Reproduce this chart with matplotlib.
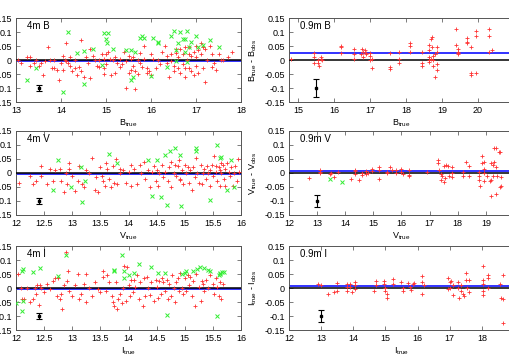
import matplotlib
matplotlib.use("Agg")
import matplotlib.pyplot as plt
from matplotlib.ticker import FixedLocator, FixedFormatter

plt.rcParams['font.family'] = ['Liberation Sans', 'DejaVu Sans']
plt.rcParams['mathtext.default'] = 'regular'

# ---------------- data ----------------
# 4m B
b4_red_x = [13.05,13.1,13.25,13.3,13.3,13.4,13.45,13.5,13.55,13.6,13.7,13.75,13.8,13.85,13.9,13.95,14.0,14.05,14.05,14.08,14.1,14.12,14.15,14.2,14.25,14.3,14.3,14.35,14.4,14.45,14.45,14.5,14.55,14.6,14.65,14.7,14.75,14.8,14.85,14.85,14.9,14.95,14.95,15.0,15.05,15.08,15.1,15.15,15.2,15.25,15.3,15.35,15.4,15.45,15.5,15.5,15.55,15.6,15.6,15.65,15.65,15.7,15.7,15.75,15.8,15.85,15.85,15.9,15.95,16.0,16.05,16.1,16.15,16.2,16.25,16.3,16.35,16.4,16.45,16.5,16.55,16.6,16.6,16.65,16.7,16.7,16.75,16.8,16.85,16.85,16.9,16.95,17.0,17.0,17.05,17.1,17.1,17.15,17.2,17.2,17.25,17.3,17.35,17.4,17.45,17.5,17.55,17.6,17.8,17.7,16.9,16.5,16.35,16.0,15.9,15.45,15.3,15.2,14.65,14.95,15.0,16.95,17.15,17.05,16.75,16.65,16.55,16.45,15.75,15.55,14.2,13.85,13.65,17.35,17.0,16.85,16.75]
b4_red_y = [0.0,-0.01,0.01,0.01,-0.02,-0.01,0.0,-0.02,-0.01,-0.055,0.045,0.0,-0.03,-0.028,-0.035,-0.072,-0.01,0.015,-0.035,0.0,-0.005,0.06,-0.01,-0.02,-0.04,0.0,-0.03,-0.055,-0.025,0.07,-0.04,-0.06,0.01,-0.01,-0.065,0.015,0.0,-0.02,0.0,-0.025,0.02,0.005,-0.03,0.02,0.03,0.005,-0.055,0.0,0.01,-0.01,0.005,-0.015,0.03,-0.1,-0.045,0.015,-0.035,-0.02,0.01,-0.105,-0.04,0.0,-0.05,0.025,-0.025,0.05,0.005,-0.03,-0.04,0.02,0.005,-0.03,0.0,-0.015,0.03,0.05,-0.01,-0.06,0.02,-0.04,0.04,-0.03,0.01,-0.045,0.02,-0.015,-0.06,0.0,-0.03,0.02,-0.04,0.03,0.01,-0.02,-0.045,0.06,0.02,-0.03,-0.08,0.04,0.0,0.05,0.02,-0.01,-0.035,0.02,0.0,0.0,0.03,0.01,0.015,-0.02,0.015,-0.055,-0.045,-0.005,-0.025,-0.045,0.04,-0.05,-0.015,-0.055,0.045,0.035,0.045,0.04,0.025,-0.005,-0.01,0.005,0.01,0.0,-0.005,-0.025,0.05,0.045,-0.03]
b4_grn_x = [13.25,13.45,14.15,14.05,14.35,14.5,14.5,14.7,14.9,14.95,15.0,15.02,15.05,15.15,15.45,15.55,15.55,15.6,15.65,15.75,15.8,15.85,16.0,16.05,16.15,16.15,16.35,16.45,16.5,16.55,16.6,16.65,16.7,16.75,16.75,16.8,16.85,16.9,17.0,17.05,17.15,17.3,17.5,16.55,16.8]
b4_grn_y = [-0.073,-0.028,0.1,-0.115,0.025,0.033,-0.085,0.04,-0.018,0.095,0.075,0.06,0.097,0.04,0.035,0.035,-0.072,-0.062,0.03,0.08,0.085,0.08,-0.057,0.08,0.065,0.06,-0.025,0.085,0.105,0.035,0.062,0.1,0.075,0.075,0.03,0.105,0.045,0.065,0.085,0.045,0.055,0.072,0.045,-0.005,-0.008]

# 4m V
v4_red_x = [12.05,12.3,12.35,12.45,12.45,12.55,12.6,12.65,12.7,12.78,12.8,12.85,12.88,12.9,12.95,12.95,13.0,13.05,13.1,13.12,13.18,13.2,13.25,13.3,13.35,13.4,13.42,13.45,13.5,13.52,13.55,13.58,13.6,13.62,13.65,13.68,13.72,13.75,13.78,13.8,13.85,13.9,13.95,14.0,14.05,14.05,14.1,14.15,14.2,14.22,14.28,14.3,14.35,14.38,14.42,14.45,14.48,14.5,14.52,14.55,14.6,14.62,14.65,14.7,14.72,14.75,14.8,14.82,14.85,14.88,14.9,14.92,14.95,14.97,15.0,15.02,15.05,15.08,15.1,15.12,15.15,15.18,15.2,15.22,15.25,15.28,15.3,15.33,15.35,15.38,15.4,15.42,15.45,15.48,15.5,15.52,15.55,15.57,15.6,15.62,15.63,15.65,15.68,15.7,15.72,15.75,15.78,15.8,15.82,15.85,15.88,15.9,15.92,15.95,15.97,15.55,15.65,15.72,15.45,14.92,14.75,13.85,12.25]
v4_red_y = [-0.035,-0.04,-0.03,0.025,-0.01,-0.04,0.015,-0.03,0.01,0.015,-0.03,-0.068,0.0,-0.04,0.035,0.015,-0.01,-0.065,-0.03,0.025,-0.04,-0.05,0.01,0.0,0.055,-0.06,-0.015,-0.068,0.02,-0.01,-0.03,-0.045,0.035,0.015,-0.02,-0.05,0.025,-0.035,0.05,-0.04,0.0,0.01,-0.035,0.005,0.03,-0.045,0.015,-0.04,0.03,0.0,0.04,-0.02,0.01,-0.05,0.005,0.025,-0.03,0.01,-0.045,0.0,0.03,-0.015,0.005,-0.03,0.02,-0.05,0.0,0.03,-0.01,0.025,0.047,-0.025,0.01,-0.04,0.03,0.0,0.02,-0.035,0.01,-0.06,0.02,-0.015,0.055,0.0,-0.035,0.03,-0.04,0.0,0.015,-0.02,0.025,0.0,-0.045,0.03,-0.01,0.06,0.005,-0.03,0.02,0.01,-0.045,0.0,0.03,-0.02,0.015,0.035,0.005,-0.01,0.02,-0.045,0.0,0.025,-0.03,0.05,0.005,0.025,0.035,-0.045,0.01,-0.02,0.04,0.015,-0.01]
v4_grn_x = [12.65,12.75,12.98,13.15,13.17,13.22,13.65,13.8,14.35,14.42,14.5,14.57,14.65,14.68,14.73,14.82,14.92,14.93,15.2,15.2,15.45,15.58,15.62,15.65,15.75,15.82,15.88]
v4_grn_y = [-0.06,0.045,-0.05,0.022,-0.105,-0.027,0.067,0.035,0.045,-0.082,0.048,-0.085,0.063,-0.115,0.08,0.09,0.063,-0.118,0.09,0.08,-0.098,0.1,0.055,0.058,-0.062,0.045,-0.05]

# 4m I
i4_red_x = [12.03,12.08,12.1,12.15,12.2,12.25,12.3,12.33,12.35,12.37,12.4,12.42,12.45,12.5,12.55,12.6,12.65,12.7,12.72,12.75,12.78,12.8,12.82,12.85,12.88,12.9,12.92,12.95,13.0,13.05,13.1,13.12,13.15,13.2,13.25,13.25,13.3,13.35,13.4,13.45,13.5,13.55,13.55,13.6,13.62,13.65,13.7,13.72,13.75,13.78,13.8,13.82,13.85,13.88,13.9,13.92,13.95,13.98,14.0,14.02,14.05,14.08,14.1,14.12,14.15,14.18,14.2,14.25,14.28,14.3,14.32,14.35,14.38,14.4,14.45,14.48,14.5,14.52,14.55,14.58,14.6,14.62,14.65,14.68,14.7,14.72,14.75,14.78,14.8,14.82,14.85,14.88,14.9,14.92,14.95,14.97,15.0,15.02,15.05,15.08,15.1,15.12,15.15,15.18,15.2,15.25,15.28,15.3,15.32,15.35,15.38,15.42,15.45,15.5,15.52,15.55,15.58,15.6,15.62,15.65,15.68]
i4_red_y = [0.05,0.0,-0.04,-0.04,0.0,-0.05,-0.04,0.0,-0.02,0.01,-0.06,0.01,0.0,-0.015,0.015,-0.005,0.025,0.035,-0.03,0.035,-0.04,-0.02,-0.075,0.01,0.13,0.025,0.06,-0.01,-0.03,0.01,0.05,-0.04,-0.02,0.015,0.05,-0.05,0.0,-0.03,0.02,-0.005,-0.015,0.06,0.04,-0.01,0.045,0.02,-0.03,-0.05,-0.065,0.02,-0.075,-0.04,-0.02,-0.055,0.0,0.08,-0.045,0.075,0.01,-0.03,0.03,-0.015,0.03,0.005,0.045,-0.04,0.02,-0.065,0.035,-0.03,0.04,0.0,-0.025,0.02,-0.045,0.03,0.005,-0.035,0.025,-0.02,0.035,0.02,-0.01,0.03,-0.04,0.015,-0.03,0.045,0.0,-0.05,0.02,0.035,-0.01,0.055,0.0,-0.02,0.035,-0.01,0.045,0.01,0.04,-0.03,0.025,-0.065,0.05,0.005,-0.045,0.025,0.015,-0.01,0.03,0.0,0.045,0.015,-0.02,0.035,0.005,-0.03,0.02,-0.04,0.015]
i4_grn_x = [12.0,12.1,12.1,12.12,12.12,12.3,12.42,12.75,12.88,13.75,13.75,13.88,13.92,14.0,14.1,14.18,14.4,14.52,14.65,14.68,14.95,15.02,15.0,15.15,15.22,15.27,15.35,15.42,15.45,15.57,15.6,15.62,15.66,15.7,15.62,13.92]
i4_grn_y = [-0.055,-0.083,0.06,0.068,-0.048,0.058,0.07,0.043,0.118,0.065,0.06,0.118,0.06,0.045,0.055,0.087,0.075,0.055,0.055,-0.098,0.05,0.062,0.052,0.062,0.068,0.075,0.07,0.065,0.06,-0.1,0.045,0.055,0.057,0.058,0.05,0.035]

# 0.9m B
b09_red_x = [14.8,15.45,15.45,15.45,15.55,15.55,15.58,15.65,15.65,15.68,16.2,16.2,16.2,16.55,16.55,16.55,16.75,16.78,16.8,16.8,16.85,16.9,16.9,17.0,17.0,17.0,17.05,17.05,17.55,17.55,17.55,17.8,17.8,17.8,18.1,18.1,18.1,18.45,18.45,18.45,18.65,18.65,18.65,18.65,18.65,18.7,18.72,18.72,18.75,18.75,18.8,18.8,18.85,18.85,18.85,18.85,18.75,18.7,19.4,19.4,19.45,19.45,19.45,19.45,19.7,19.7,19.7,19.8,19.8,19.8,19.95,19.95,19.95,20.3,20.3,20.3,20.38]
b09_red_y = [0.005,0.025,0.01,-0.01,0.0,-0.01,-0.022,0.005,0.01,0.0,0.05,0.045,0.025,0.04,0.02,0.005,0.02,0.04,0.03,0.01,0.035,0.025,0.02,0.025,0.015,0.0,-0.028,0.005,0.025,-0.025,-0.032,0.03,0.005,-0.012,0.062,0.05,0.03,0.027,-0.012,-0.022,0.055,0.035,0.01,0.0,-0.008,0.075,0.082,0.048,0.0,0.015,0.02,-0.062,0.045,0.03,-0.035,-0.015,-0.02,0.005,0.11,0.055,0.04,0.03,0.025,0.02,0.08,0.065,0.06,0.045,-0.048,-0.053,0.105,0.085,-0.045,0.11,0.085,0.03,0.035]

# 0.9m V
v09_red_x = [12.7,13.1,13.1,13.1,13.45,13.5,13.6,13.75,14.2,14.35,14.35,14.35,14.5,14.6,14.6,14.75,14.75,14.8,14.95,14.95,15.2,15.2,15.2,15.5,15.5,15.6,15.65,15.8,15.8,16.0,16.0,16.05,16.25,16.25,16.25,16.9,17.3,17.3,17.35,17.4,17.4,17.45,17.5,17.5,17.55,17.6,17.65,17.7,17.8,17.8,17.8,18.2,18.2,18.3,18.4,18.4,18.75,18.75,18.75,18.8,18.85,18.85,18.95,18.95,18.95,19.2,19.2,19.2,19.25,19.25,19.3,19.35,19.35,19.35,19.4,19.45,19.5,19.5,19.55,19.55,19.15,19.3,18.95,19.05]
v09_red_y = [-0.018,0.012,0.005,0.0,-0.005,0.0,-0.015,0.002,-0.022,0.012,0.008,-0.005,-0.025,0.0,-0.008,0.008,-0.005,0.0,0.015,0.008,0.02,0.01,-0.022,0.0,0.005,0.02,0.012,0.01,0.0,0.015,0.005,-0.005,0.01,-0.008,-0.01,0.005,0.045,0.035,0.01,-0.025,-0.005,-0.01,0.025,-0.032,-0.018,0.03,0.025,-0.01,0.02,0.0,-0.015,0.005,-0.01,0.04,0.025,-0.01,0.005,-0.01,-0.025,-0.045,0.06,0.035,0.04,0.015,-0.03,0.035,-0.025,-0.082,0.03,-0.01,0.09,0.09,0.02,-0.075,-0.01,0.075,0.075,-0.05,-0.045,-0.015,-0.03,0.04,0.0,-0.01]
v09_grn_x = [13.45,13.9]
v09_grn_y = [-0.022,-0.032]

# 0.9m I
i09_red_x = [12.9,13.0,13.2,13.4,13.5,13.5,13.8,13.8,13.8,13.9,13.9,13.95,14.05,14.05,14.05,14.7,14.7,14.65,14.95,14.95,15.0,15.0,15.05,15.05,15.25,15.25,15.5,15.55,15.55,15.7,15.75,15.8,15.85,15.9,16.15,16.15,16.2,16.15,16.95,17.0,17.0,16.95,17.05,17.1,17.1,17.25,17.25,17.3,17.35,17.35,17.4,17.45,17.5,17.5,17.55,17.6,17.6,18.05,18.05,18.05,18.05,18.05,18.2,18.2,18.2,18.55,18.6,18.65,18.65,18.65,18.9,18.9]
i09_red_y = [0.015,0.012,-0.022,-0.015,0.018,-0.012,0.015,0.005,-0.012,0.015,0.002,-0.015,0.02,0.01,-0.005,0.025,0.01,-0.01,0.025,0.015,0.0,-0.01,-0.02,-0.035,0.033,0.015,0.02,0.0,-0.012,0.018,0.005,-0.008,0.015,0.018,0.042,0.02,0.01,-0.022,0.035,0.02,0.0,-0.005,0.025,0.01,-0.025,0.02,0.0,-0.035,0.01,-0.01,-0.02,-0.028,0.055,0.03,0.0,0.03,-0.015,0.08,0.03,0.015,-0.01,-0.025,0.045,0.035,0.0,0.015,-0.037,-0.04,0.045,-0.125,0.02,-0.03]

# mean offsets (blue lines) and representative error bars
offsets = {"4m B": -0.003, "4m V": -0.003, "4m I": -0.002,
           "0.9m B": 0.025, "0.9m V": 0.008, "0.9m I": 0.006}
err_x = {"4m B": 13.5, "4m V": 12.4, "4m I": 12.4,
         "0.9m B": 15.5, "0.9m V": 13.0, "0.9m I": 13.0}
err_y = -0.1
err_size = {"4m B": 0.011, "4m V": 0.011, "4m I": 0.01,
            "0.9m B": 0.033, "0.9m V": 0.021, "0.9m I": 0.02}

yticks = [0.15, 0.1, 0.05, 0, -0.05, -0.1, -0.15]
ytick_labels = ["0.15", "0.1", "0.05", "0", "-0.05", "-0.1", "-0.15"]

panels = [
    # name, red x, red y, green x, green y, xlim, xticks, xticklabels, band
    ("4m B", b4_red_x, b4_red_y, b4_grn_x, b4_grn_y, (13, 18), [13, 14, 15, 16, 17, 18], ["13", "14", "15", "16", "17", "18"], "B"),
    ("0.9m B", b09_red_x, b09_red_y, [], [], (14.75, 21), [15, 16, 17, 18, 19, 20], ["15", "16", "17", "18", "19", "20"], "B"),
    ("4m V", v4_red_x, v4_red_y, v4_grn_x, v4_grn_y, (12, 16), [12, 12.5, 13, 13.5, 14, 14.5, 15, 15.5, 16], ["12", "12.5", "13", "13.5", "14", "14.5", "15", "15.5", "16"], "V"),
    ("0.9m V", v09_red_x, v09_red_y, v09_grn_x, v09_grn_y, (12, 20), [12, 13, 14, 15, 16, 17, 18, 19], ["12", "13", "14", "15", "16", "17", "18", "19"], "V"),
    ("4m I", i4_red_x, i4_red_y, i4_grn_x, i4_grn_y, (12, 16), [12, 12.5, 13, 13.5, 14, 14.5, 15, 15.5, 16], ["12", "12.5", "13", "13.5", "14", "14.5", "15", "15.5", "16"], "I"),
    ("0.9m I", i09_red_x, i09_red_y, [], [], (12, 19), [12, 13, 14, 15, 16, 17, 18], ["12", "13", "14", "15", "16", "17", "18"], "I"),
]

W, H = 509, 356
fig = plt.figure(figsize=(W / 100, H / 100), dpi=100)

lefts = [16, 289]
tops = [18, 131, 246]
aw, ah = 225, 84

fs = 6.5
for k, (name, rx, ry, gx, gy, xlim, xt, xtl, band) in enumerate(panels):
    row, col = divmod(k, 2)
    x0 = lefts[col] / W
    y0 = (H - tops[row] - ah) / H
    ax = fig.add_axes([x0, y0, aw / W, ah / H])
    ax.set_xlim(*xlim)
    ax.set_ylim(-0.15, 0.15)
    ax.axhline(offsets[name], color='#2222ff', lw=1.3, zorder=2)
    ax.axhline(0, color='black', lw=1.1, zorder=3)
    ax.plot(rx, ry, linestyle='none', marker='+', color='#ff3333', ms=2.6, mew=0.6, zorder=4)
    if gx:
        ax.plot(gx, gy, linestyle='none', marker='x', color='#33ee33', ms=2.4, mew=0.7, zorder=4)
    ax.errorbar([err_x[name]], [err_y], yerr=[err_size[name]], fmt='s', color='black',
                ms=1.5, capsize=2, elinewidth=0.8, capthick=0.8, zorder=5)
    ax.xaxis.set_major_locator(FixedLocator(xt))
    ax.xaxis.set_major_formatter(FixedFormatter(xtl))
    ax.yaxis.set_major_locator(FixedLocator(yticks))
    ax.yaxis.set_major_formatter(FixedFormatter(ytick_labels))
    ax.tick_params(direction='in', top=True, right=True, length=3, width=0.6,
                   color='#666666', labelsize=fs, pad=3)
    for s in ax.spines.values():
        s.set_color('#555555')
        s.set_linewidth(0.7)
    ax.text(0.05, 0.9, name, transform=ax.transAxes, fontsize=7, va='center', ha='left')
    ax.set_xlabel(f"{band}$_{{true}}$", fontsize=fs, labelpad=2)
    ax.set_ylabel(f"{band}$_{{true}}$ - {band}$_{{obs}}$", fontsize=fs, labelpad=4)

fig.savefig("out.png", dpi=100)
